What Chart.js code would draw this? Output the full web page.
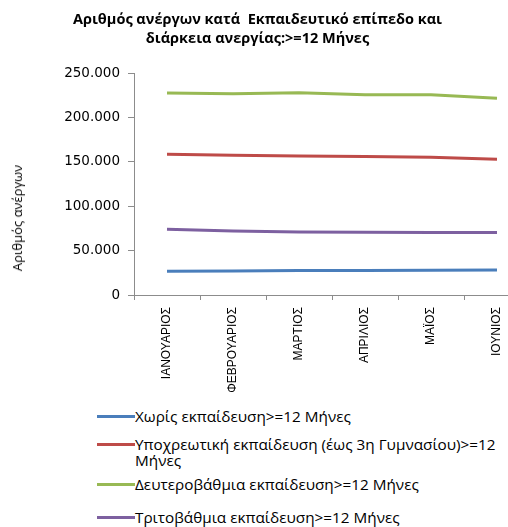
<!DOCTYPE html>
<html>
<head>
<meta charset="utf-8">
<script src="https://cdn.jsdelivr.net/npm/chart.js@4"></script>
<style>
  html, body { margin: 0; padding: 0; background: #fff; overflow: hidden; }
  #wrap { position: relative; width: 508px; height: 527px; overflow: hidden; }
  #title { position: absolute; left: 0; top: 9px; width: 515px; text-align: center;
    font: bold 14.5px "Open Sans", sans-serif; line-height: 19px; color: #000; }
  #box { position: absolute; left: 0; top: 0; width: 540px; height: 400px; }
  #ytitle { position: absolute; left: 17px; top: 218px; transform: translate(-50%, -50%) rotate(-90deg);
    white-space: nowrap; font: 13px "Open Sans", sans-serif; color: #000; }
  .item { position: absolute; left: 97px; width: 411px; display: flex; align-items: flex-start;
    line-height: 16px; font: 15.3px "Open Sans", sans-serif; color: #000; }
  .item span:last-child { line-height: 16px; }
  .swatch { width: 38px; height: 3px; margin-top: 7px; flex: none; }
</style>
</head>
<body>
<div id="wrap">
  <div id="box"><canvas id="chart" width="540" height="400"></canvas></div>
  <div id="title">Αριθμός ανέργων κατά&nbsp; Εκπαιδευτικό επίπεδο και<br>διάρκεια ανεργίας:&gt;=12 Μήνες</div>
  <div id="ytitle">Αριθμός ανέργων</div>
</div>
<script>
const months = ['ΙΑΝΟΥΑΡΙΟΣ', 'ΦΕΒΡΟΥΑΡΙΟΣ', 'ΜΑΡΤΙΟΣ', 'ΑΠΡΙΛΙΟΣ', 'ΜΑΪΟΣ', 'ΙΟΥΝΙΟΣ'];
const noEducation = [26700, 27000, 27500, 27700, 28000, 28100];
const compulsory = [158400, 157500, 156600, 156000, 155000, 152800];
const secondary = [227500, 226700, 227800, 225600, 225600, 221500];
const tertiary = [74000, 72000, 71000, 70600, 70500, 70500];
const seriesNames = [
  'Χωρίς εκπαίδευση>=12 Μήνες',
  'Υποχρεωτική εκπαίδευση (έως 3η Γυμνασίου)>=12 Μήνες',
  'Δευτεροβάθμια εκπαίδευση>=12 Μήνες',
  'Τριτοβάθμια εκπαίδευση>=12 Μήνες'
];
const colors = ['#4A7EBB', '#BE4B48', '#98B954', '#7D60A0'];
const yTicks = [0, 50000, 100000, 150000, 200000, 250000];

const allSeries = [noEducation, compulsory, secondary, tertiary];
const datasets = allSeries.map((d, i) => ({
  label: seriesNames[i],
  data: d,
  borderColor: colors[i],
  backgroundColor: colors[i],
  borderWidth: 3,
  pointRadius: 0,
  tension: 0,
  fill: false
}));

const axisGray = '#8c8c8c';

new Chart(document.getElementById('chart'), {
  type: 'line',
  data: { labels: months, datasets },
  options: {
    responsive: false,
    animation: false,
    layout: { padding: { top: 73, right: 10, left: 0, bottom: 0 } },
    plugins: { legend: { display: false }, tooltip: { enabled: false } },
    scales: {
      x: {
        offset: true,
        grid: { display: true, drawOnChartArea: false, offset: true, tickLength: 5, color: axisGray },
        border: { color: axisGray },
        ticks: {
          maxRotation: 90, minRotation: 90, padding: 7, color: '#000',
          font: { family: '"Liberation Sans Narrow", "Liberation Sans", sans-serif', size: 12 }
        },
        afterFit: s => { s.height = 105; }
      },
      y: {
        min: 0, max: 250000,
        afterBuildTicks: s => { s.ticks = yTicks.map(v => ({ value: v })); },
        grid: { display: true, drawOnChartArea: false, tickLength: 6, color: axisGray },
        border: { color: axisGray },
        ticks: {
          padding: 8, color: '#000',
          font: { family: '"DejaVu Sans", sans-serif', size: 13.5 },
          callback: v => v === 0 ? '0' : (v / 1000) + '.000'
        },
        afterFit: s => { s.width = 134; }
      }
    }
  }
});

// legend rows, top of each row
const legendTops = [408, 436, 476, 509];
const wrap = document.getElementById('wrap');
seriesNames.forEach((name, i) => {
  const row = document.createElement('div');
  row.className = 'item';
  row.style.top = legendTops[i] + 'px';
  row.innerHTML = `<span class="swatch" style="background:${colors[i]}"></span><span>${name}</span>`;
  wrap.appendChild(row);
});
</script>
</body>
</html>
